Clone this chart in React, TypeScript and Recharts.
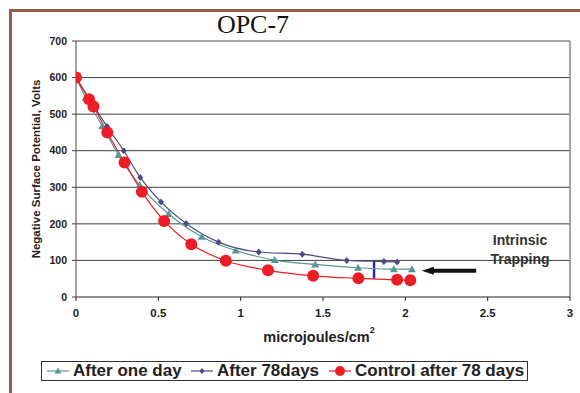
import React from 'react'
import { LineChart, Line, XAxis, YAxis, CartesianGrid, ReferenceLine } from 'recharts'

// readings taken off the OPC-7 discharge plot
const oneDayX = [0, 0.059, 0.16, 0.258, 0.386, 0.563, 0.764, 0.97, 1.207, 1.453, 1.713, 1.93, 2.04]
const oneDayY = [600, 545, 467, 388, 306, 227, 165, 127, 101, 89, 80, 76, 76]

const days78X = [0, 0.189, 0.29, 0.39, 0.516, 0.669, 0.866, 1.11, 1.374, 1.644, 1.87, 1.95]
const days78Y = [600, 466, 400, 327, 260, 201, 150, 123, 117, 100, 97, 96]

const controlX = [0, 0.079, 0.106, 0.19, 0.295, 0.4, 0.535, 0.7, 0.91, 1.166, 1.44, 1.715, 1.95, 2.03]
const controlY = [600, 541, 521, 450, 368, 288, 208, 144, 99, 73, 58, 51, 47, 46]

const xTicks = [0, 0.5, 1, 1.5, 2, 2.5, 3]
const yTicks = [0, 100, 200, 300, 400, 500, 600, 700]
const gridValues = [100, 200, 300, 400, 500, 600]

const trapMarkX = 1.81
const trapMarkTop = 99
const trapMarkBottom = 50
const arrowFrom = { x: 2.43, y: 72 }
const arrowTo = { x: 2.1, y: 72 }

const TEAL = '#5b9792'
const NAVY = '#4b4a82'
const RED = '#ee1c24'
const SANS = '"Liberation Sans", Arial, sans-serif'

const toPoints = (xs: number[], ys: number[]) => xs.map((x, i) => ({ x, y: ys[i] }))

const oneDay = toPoints(oneDayX, oneDayY)
const days78 = toPoints(days78X, days78Y)
const control = toPoints(controlX, controlY)

const Triangle = (props: any) => {
  const { cx, cy } = props
  if (cx == null || cy == null) return null
  return <path d={`M${cx},${cy - 4} L${cx + 4},${cy + 3} L${cx - 4},${cy + 3} Z`} fill={TEAL} />
}

const Diamond = (props: any) => {
  const { cx, cy } = props
  if (cx == null || cy == null) return null
  return <path d={`M${cx},${cy - 3.5} L${cx + 3},${cy} L${cx},${cy + 3.5} L${cx - 3},${cy} Z`} fill={NAVY} />
}

const Circle = (props: any) => {
  const { cx, cy } = props
  if (cx == null || cy == null) return null
  return <circle cx={cx} cy={cy} r={6} fill={RED} />
}

const Arrow = (props: any) => {
  const { x1, y1, x2, y2 } = props
  return (
    <g>
      <line x1={x1} y1={y1} x2={x2 + 10} y2={y2} stroke="#111" strokeWidth={4} />
      <path d={`M${x2},${y2} L${x2 + 12},${y2 - 4} L${x2 + 12},${y2 + 4} Z`} fill="#111" />
    </g>
  )
}

const LegendItem = ({ left, color, label, marker }: { left: number; color: string; label: string; marker: 'tri' | 'dia' | 'dot' }) => (
  <div style={{ position: 'absolute', left, top: 0, height: 18, display: 'flex', alignItems: 'center' }}>
    <svg width={22} height={14} style={{ marginRight: 4 }}>
      <line x1={0} y1={7} x2={22} y2={7} stroke={color} strokeWidth={1.2} />
      {marker === 'tri' && <path d="M11,3.5 L14.5,9.5 L7.5,9.5 Z" fill={color} />}
      {marker === 'dia' && <path d="M11,4 L13.5,7 L11,10 L8.5,7 Z" fill={color} />}
      {marker === 'dot' && <circle cx={11} cy={7} r={5} fill={color} />}
    </svg>
    <span>{label}</span>
  </div>
)

export default function App() {
  return (
    <div style={{ position: 'absolute', left: 0, top: 0, width: 580, height: 393, background: '#fff', overflow: 'hidden' }}>
      <div style={{ position: 'absolute', left: 9, top: 9, width: 580, height: 400, borderLeft: '3px solid #9c5b47', borderTop: '3px solid #9c5b47' }} />

      <LineChart width={580} height={393} margin={{ top: 41, right: 10, bottom: 66, left: 0 }}>
        <CartesianGrid horizontal vertical={false} horizontalValues={gridValues} stroke="#2a2a2a" strokeOpacity={0.9} />
        <ReferenceLine y={700} stroke="#8a8a8a" strokeWidth={1.5} />
        <ReferenceLine x={3} stroke="#8a8a8a" strokeWidth={1.5} />
        <XAxis
          type="number"
          dataKey="x"
          domain={[0, 3]}
          ticks={xTicks}
          height={30}
          tickSize={4}
          tickMargin={8}
          stroke="#222"
          tick={{ fill: '#222', fontSize: 11.5, fontWeight: 700, fontFamily: SANS }}
          allowDataOverflow
        />
        <YAxis
          type="number"
          dataKey="y"
          domain={[0, 700]}
          ticks={yTicks}
          width={76}
          tickSize={4}
          tickMargin={5}
          stroke="#444"
          tick={{ fill: '#222', fontSize: 10.5, fontWeight: 700, fontFamily: SANS }}
        />
        <ReferenceLine
          segment={[{ x: trapMarkX, y: trapMarkTop }, { x: trapMarkX, y: trapMarkBottom }]}
          stroke="#2b2f9a"
          strokeWidth={2.5}
        />
        <ReferenceLine segment={[arrowFrom, arrowTo]} shape={Arrow} />
        <Line data={oneDay} dataKey="y" type="monotone" stroke={TEAL} strokeWidth={1.2} dot={Triangle} isAnimationActive={false} />
        <Line data={days78} dataKey="y" type="monotone" stroke={NAVY} strokeWidth={1.2} dot={Diamond} isAnimationActive={false} />
        <Line data={control} dataKey="y" type="monotone" stroke={RED} strokeWidth={1.2} dot={Circle} isAnimationActive={false} />
      </LineChart>

      <div style={{ position: 'absolute', left: 178, width: 150, top: 10, textAlign: 'center', fontFamily: '"Liberation Serif", "Times New Roman", serif', fontSize: 26, color: '#111', lineHeight: '30px' }}>
        OPC-7
      </div>

      <div
        style={{
          position: 'absolute',
          left: 36,
          top: 169,
          transform: 'translate(-50%, -50%) rotate(-90deg)',
          whiteSpace: 'nowrap',
          fontFamily: SANS,
          fontWeight: 700,
          fontSize: 11.5,
          color: '#222',
        }}
      >
        Negative Surface Potential, Volts
      </div>

      <div style={{ position: 'absolute', left: 199, width: 240, top: 329, textAlign: 'center', fontFamily: SANS, fontWeight: 700, fontSize: 14.5, color: '#222' }}>
        microjoules/cm<sup style={{ fontSize: 9, verticalAlign: 'top', position: 'relative', top: -4 }}>2</sup>
      </div>

      <div style={{ position: 'absolute', left: 470, width: 100, top: 231, textAlign: 'center', fontFamily: SANS, fontWeight: 700, fontSize: 14, color: '#333', lineHeight: '19px' }}>
        Intrinsic
        <br />
        Trapping
      </div>

      <div
        style={{
          position: 'absolute',
          left: 41,
          top: 361,
          width: 485,
          height: 18,
          border: '1px solid #333',
          fontFamily: SANS,
          fontWeight: 700,
          fontSize: 17,
          color: '#222',
          lineHeight: '18px',
          whiteSpace: 'nowrap',
        }}
      >
        <LegendItem left={5} color={TEAL} label="After one day" marker="tri" />
        <LegendItem left={149} color={NAVY} label="After 78days" marker="dia" />
        <LegendItem left={287} color={RED} label="Control after 78 days" marker="dot" />
      </div>
    </div>
  )
}
